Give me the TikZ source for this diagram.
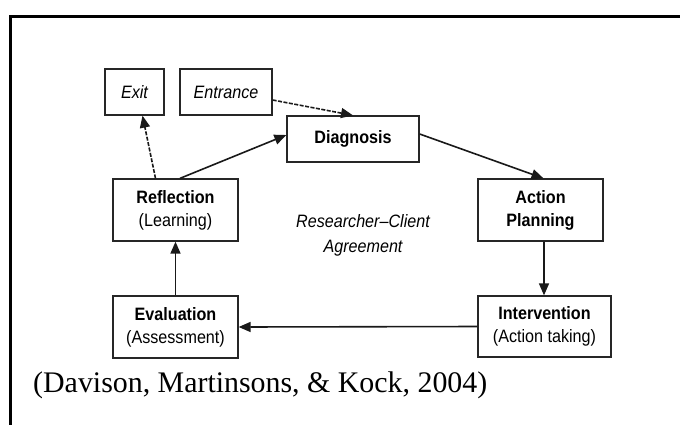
\documentclass[tikz,border=0pt]{standalone}
\usepackage{fontspec}
\setmainfont{Liberation Serif}
\newfontfamily\arialf[FakeStretch=0.9]{Liberation Sans}
\usetikzlibrary{arrows.meta}
\begin{document}
\begin{tikzpicture}[x=1bp,y=-1bp,
  box/.style={draw=black!85, line width=1.3bp, fill=white, align=center, inner sep=0pt,
    font=\arialf\fontsize{18}{23}\selectfont},
  ibox/.style={box, font=\arialf\itshape\fontsize{18}{22}\selectfont},
  conn/.style={line width=1.6bp, draw=black!90, -{Triangle[length=12bp,width=10bp]}},
  dconn/.style={conn, dash pattern=on 4bp off 1.5bp}]
\useasboundingbox (0,0) rectangle (680,424);
\fill[white] (0,0) rectangle (680,424);
\draw[line width=3bp] (10,440) |- (700,16);

\node[ibox, minimum width=59bp, minimum height=46bp] (exit) at (134.5,92) {Exit};
\node[ibox, minimum width=92bp, minimum height=46bp] (entrance) at (226,92) {Entrance};
\node[box, minimum width=132bp, minimum height=46bp] (diag) at (353,139) {\bfseries Diagnosis};
\node[box, minimum width=125bp, minimum height=62bp] (plan) at (540.5,210) {\bfseries Action\\\bfseries Planning};
\node[box, minimum width=133bp, minimum height=61bp] (interv) at (544.5,326.5) {\bfseries Intervention\\(Action taking)};
\node[box, minimum width=125bp, minimum height=62bp] (refl) at (175.5,210) {\bfseries Reflection\\(Learning)};
\node[box, minimum width=125bp, minimum height=62bp] (eval) at (175.5,327) {\bfseries Evaluation\\(Assessment)};

\node[align=center, font=\arialf\itshape\fontsize{18}{25}\selectfont] (agree) at (363,235) {Researcher\textendash Client\\Agreement};

\node[anchor=west, inner sep=0pt, font=\fontsize{30}{36}\selectfont] (cite) at (33,385) {(Davison, Martinsons, \& Kock, 2004)};

\draw[dconn] ([yshift=-8bp]entrance.east) -- (diag.north);
\draw[dconn] ([xshift=-20bp]refl.north) -- ([xshift=8bp]exit.south);
\draw[conn] ([xshift=4.5bp]refl.north) -- ([yshift=4bp]diag.west);
\draw[conn] ([yshift=5bp]diag.east) -- ([xshift=3bp]plan.north);
\draw[conn] ([xshift=3.5bp]plan.south) -- ([xshift=-0.5bp]interv.north);
\draw[conn] (interv.west) -- (eval.east);
\draw[conn] (eval.north) -- (refl.south);
\end{tikzpicture}
\end{document}
